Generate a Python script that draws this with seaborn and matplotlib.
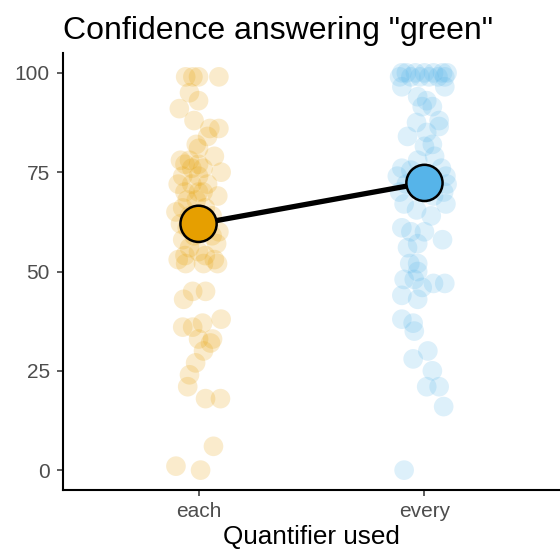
import matplotlib
matplotlib.use("Agg")
import matplotlib.pyplot as plt
import seaborn as sns
import pandas as pd

# ---- data ----
categories = ["each", "every"]
colors = ["#E69F00", "#56B4E9"]

each_values = [99, 99, 99, 99, 95, 93, 91, 88, 86, 86, 84, 82, 81, 79, 78, 78,
               77, 77, 76, 76, 75, 74, 74, 72, 72, 72, 70, 70, 70, 69, 68, 68,
               66, 66, 65, 64, 64, 62, 62, 61, 60, 59, 59, 58, 57, 56, 55, 54,
               54, 53, 53, 52, 52, 52, 45, 45, 43, 38, 37, 36, 36, 33, 33, 32,
               30, 27, 24, 21, 18, 18, 6, 1, 0]
each_jitter = [-0.057, -0.025, 0.0, 0.09, -0.04, 0.0, -0.085, -0.02, 0.05, 0.09,
               0.04, -0.01, 0.0, 0.07, -0.08, -0.04, -0.06, 0.0, -0.03, 0.02,
               0.1, -0.07, 0.0, -0.09, -0.03, 0.04, -0.06, 0.0, 0.02, 0.085,
               -0.05, -0.01, -0.07, 0.03, -0.1, -0.04, 0.06, -0.08, 0.02, -0.05,
               0.09, -0.02, 0.06, -0.07, 0.08, -0.04, 0.0, -0.06, 0.03, -0.09,
               0.07, -0.057, 0.022, 0.084, -0.026, 0.031, -0.066, 0.1, 0.018,
               -0.07, -0.026, 0.0, 0.062, 0.053, 0.022, -0.013, -0.04, -0.048,
               0.031, 0.097, 0.066, -0.1, 0.009]

every_values = [100, 100, 100, 100, 100, 100, 100, 99, 99, 99, 99, 99, 99,
                96.5, 96.5, 94, 93, 91.5, 91.5, 88, 87.5, 86.5, 85, 84, 82,
                81.5, 79, 78, 76, 76, 75.5, 74, 74, 72, 72, 70, 70, 69, 67, 67,
                65.5, 64, 61, 60, 60, 58, 57, 56, 52, 52, 50, 48, 48, 47, 47,
                46, 44, 43, 38, 37, 35, 30, 28, 25, 21, 21, 16, 0]
every_jitter = [-0.1, -0.08, -0.04, 0.0, 0.04, 0.08, 0.1, -0.11, -0.06, -0.02,
                0.02, 0.06, 0.09, -0.1, 0.09, -0.03, 0.01, -0.01, 0.035, 0.065,
                -0.035, 0.065, 0.01, -0.075, 0.035, 0.0, 0.045, -0.03, -0.1,
                0.075, -0.06, -0.12, 0.095, -0.08, 0.1, -0.11, 0.085, 0.04,
                -0.09, 0.095, -0.035, 0.03, -0.1, -0.06, 0.0, 0.08, -0.03,
                -0.075, -0.065, -0.03, -0.03, -0.09, -0.045, 0.04, 0.09, -0.01,
                -0.1, -0.03, -0.1, -0.05, -0.045, 0.015, -0.05, 0.035, 0.01,
                0.065, 0.085, -0.09]

mean_values = [62, 72.3]

y_ticks = [0, 25, 50, 75, 100]

# ---- build tables ----
pts = pd.DataFrame({
    "cat": [categories[0]] * len(each_values) + [categories[1]] * len(every_values),
    "value": each_values + every_values,
    "jit": each_jitter + every_jitter,
})
pts["x"] = pts["cat"].map({c: i + 1 for i, c in enumerate(categories)}) + pts["jit"]
means = pd.DataFrame({"cat": categories, "value": mean_values,
                      "x": [i + 1 for i in range(len(categories))]})
palette = dict(zip(categories, colors))

sns.set_theme(style="ticks")
plt.rcParams["font.family"] = ["Liberation Sans", "DejaVu Sans"]

fig = plt.figure(figsize=(5.6, 5.56), dpi=100)
ax = fig.add_axes([63 / 560, 1 - 490 / 556, 497 / 560, 437 / 556])

sns.scatterplot(data=pts, x="x", y="value", hue="cat", palette=palette,
                s=200, alpha=0.2, linewidth=0, legend=False, ax=ax, zorder=2)
sns.lineplot(data=means, x="x", y="value", color="black", linewidth=3.8,
             ax=ax, zorder=3)
sns.scatterplot(data=means, x="x", y="value", hue="cat", palette=palette,
                s=680, edgecolor="black", linewidth=1.8, legend=False,
                ax=ax, zorder=4)

ax.set_xlim(0.4, 2.6)
ax.set_ylim(-5, 105)
ax.set_xticks([1, 2])
ax.set_xticklabels(categories)
ax.set_yticks(y_ticks)
ax.set_yticklabels([str(t) for t in y_ticks])
ax.tick_params(axis="both", labelsize=15, labelcolor="#4D4D4D",
               color="#333333", length=4.5, width=1.1, pad=5)
ax.tick_params(axis="x", pad=4)
for s in ["top", "right"]:
    ax.spines[s].set_visible(False)
for s in ["left", "bottom"]:
    ax.spines[s].set_linewidth(1.5)
    ax.spines[s].set_color("black")
ax.set_xlabel("Quantifier used", fontsize=18.8, color="black", labelpad=3)
ax.set_ylabel("")
ax.set_title('Confidence answering "green"', loc="left", fontsize=23,
             color="black", pad=10)

fig.savefig("out.png", dpi=100)
